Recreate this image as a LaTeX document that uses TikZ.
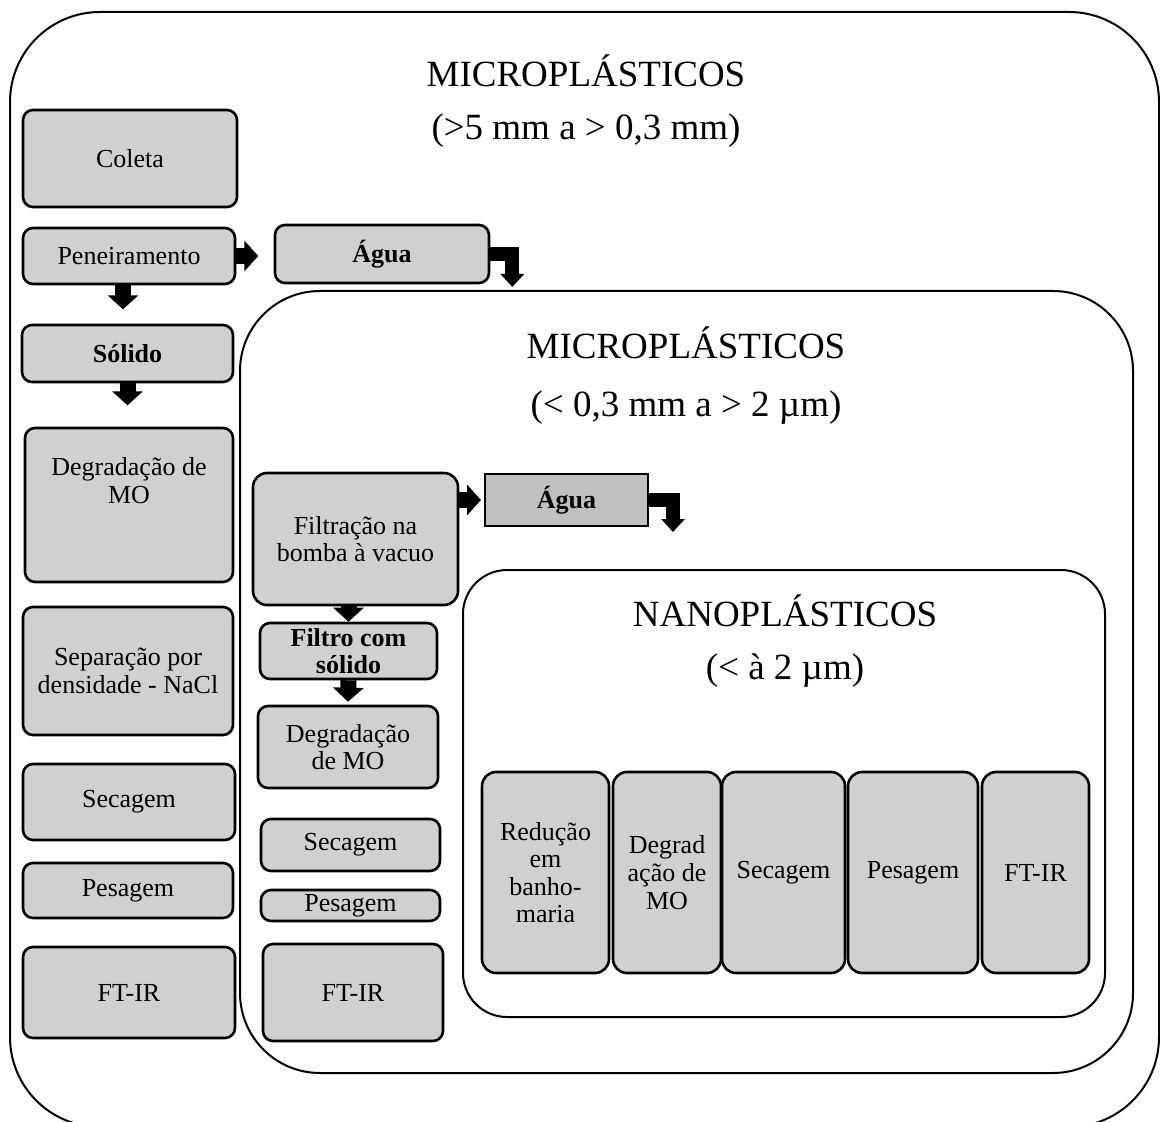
\documentclass[tikz,border=0pt]{standalone}
\usepackage{fontspec}
\setmainfont{Liberation Serif}
\usetikzlibrary{arrows.meta}
\definecolor{etapacinza}{RGB}{208,208,208}
\definecolor{aguacinza}{RGB}{192,192,192}
\begin{document}
\begin{tikzpicture}[x=0.5pt,y=-0.5pt,
  etapa/.style={draw=black,line width=1.3pt,fill=etapacinza,rounded corners=5pt,align=center,inner sep=0pt,font=\fontsize{13}{13.8}\selectfont},
  negrito/.style={font=\fontsize{13}{13.8}\selectfont\bfseries},
  nano/.style={etapa,rounded corners=7pt,minimum height=100.5pt},
  titulo/.style={align=center,inner sep=0pt,font=\fontsize{18.5}{26.5}\selectfont},
  caixa/.style={draw=black,line width=1pt},
  seta/.style={line width=8pt,-{Triangle[length=7pt,width=15pt]}},
  setacurva/.style={line width=7pt,line join=miter,-{Triangle[length=6.5pt,width=11.5pt]}}]
  \useasboundingbox (0,0) rectangle (1160,1122);
  \clip (0,0) rectangle (1160,1122);

  % molduras
  \draw[caixa,rounded corners=45pt] (10,12) rectangle (1159,1127);
  \draw[caixa,rounded corners=40pt] (240,291) rectangle (1133,1073);
  \draw[caixa,rounded corners=22pt] (463,570) rectangle (1105,1017);

  \node[titulo] (titulo1) at (586,101) {MICROPLÁSTICOS\\(>5 mm a > 0,3 mm)};
  \node[titulo] (titulo2) at (686,376) {MICROPLÁSTICOS\\[2.5pt](< 0,3 mm a > 2 µm)};
  \node[titulo] (titulo3) at (785,641.5) {NANOPLÁSTICOS\\(< à 2 µm)};

  % coluna da esquerda
  \node[etapa,minimum width=107pt,minimum height=48.5pt] (coleta) at (130,158.5) {Coleta};
  \node[etapa,minimum width=106pt,minimum height=28pt] (peneira) at (129,256) {Peneiramento};
  \node[etapa,negrito,minimum width=107pt,minimum height=29pt] (agua1) at (382,254) {Água};
  \node[etapa,negrito,minimum width=105.5pt,minimum height=28.5pt] (solido) at (127.5,353.5) {Sólido};
  \node[etapa,minimum width=104pt,text height=37.5pt,text depth=39.5pt] (degrad1) at (129,505) {Degradação de\\MO};
  \node[etapa,minimum width=105pt,minimum height=64pt] (separa) at (128,671) {Separação por\\densidade - NaCl};
  \node[etapa,minimum width=106pt,minimum height=38pt] (secagem1) at (129,802) {Secagem};
  \node[etapa,minimum width=105pt,minimum height=27.5pt] (pesagem1) at (128,890.5) {Pesagem};
  \node[etapa,minimum width=106pt,minimum height=45.5pt] (ftir1) at (129,992.5) {FT-IR};

  % coluna do meio
  \node[etapa,rounded corners=7pt,minimum width=102.5pt,minimum height=66pt] (filtra) at (355.5,539) {Filtração na\\bomba à vacuo};
  \node[etapa,negrito,sharp corners,line width=1pt,fill=aguacinza,minimum width=81.5pt,minimum height=26pt] (agua2) at (566.5,500) {Água};
  \node[etapa,negrito,minimum width=88.5pt,minimum height=28pt] (filtro) at (348.5,651) {Filtro com\\sólido};
  \node[etapa,minimum width=90pt,minimum height=41pt] (degrad2) at (348,747) {Degradação\\de MO};
  \node[etapa,minimum width=89.5pt,minimum height=26pt] (secagem2) at (350.5,845) {Secagem};
  \node[etapa,minimum width=89.5pt,minimum height=15.5pt] (pesagem2) at (350.5,905.5) {Pesagem};
  \node[etapa,minimum width=90pt,minimum height=48.5pt] (ftir2) at (353,992.5) {FT-IR};

  % nanoplasticos
  \node[nano,minimum width=63.5pt] (reducao) at (545.5,872.5) {Redução\\em\\banho-\\maria};
  \node[nano,minimum width=54pt] (degrad3) at (667,872.5) {Degrad\\ação de\\MO};
  \node[nano,minimum width=61.5pt] (secagem3) at (783.5,872.5) {Secagem};
  \node[nano,minimum width=65pt] (pesagem3) at (913,872.5) {Pesagem};
  \node[nano,minimum width=53.5pt] (ftir3) at (1035.5,872.5) {FT-IR};

  % setas
  \draw[seta] (peneira.east) -- ++(22,0);
  \draw[seta] ([xshift=-3pt]peneira.south) -- ++(0,24);
  \draw[seta] (solido.south) -- ++(0,22);
  \draw[setacurva] (agua1.east) -- ++(22,0) -- ++(0,33);
  \draw[seta] (filtra.east |- agua2.west) -- ([xshift=-1.5pt]agua2.west);
  \draw[setacurva] (agua2.east) -- ++(24,0) -- ++(0,32);
  \draw[seta] (filtro.north |- filtra.south) -- (filtro.north);
  \draw[seta] (filtro.south) -- ([yshift=1.5pt]degrad2.north);
\end{tikzpicture}
\end{document}
